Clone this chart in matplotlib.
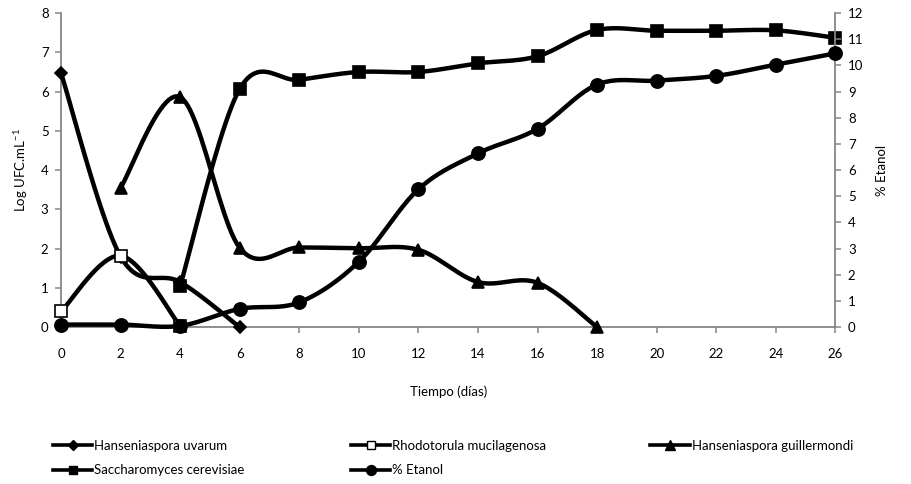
import numpy as np
import matplotlib
matplotlib.use('Agg')
import matplotlib.pyplot as plt
from matplotlib.lines import Line2D

# ── Data ─────────────────────────────────────────────────────────────────────
dias = [0, 2, 4, 6, 8, 10, 12, 14, 16, 18, 20, 22, 24, 26]

uvarum_x = [0, 2, 4, 6]
uvarum_y = [6.47, 1.8, 1.15, 0.0]

rhodo_x = [0, 2, 4]
rhodo_y = [0.4, 1.82, 0.03]

guill_x = [2, 4, 6, 8, 10, 12, 14, 16, 18]
guill_y = [3.55, 5.86, 2.02, 2.03, 2.01, 1.97, 1.15, 1.13, 0.0]

sacch_x = [4, 6, 8, 10, 12, 14, 16, 18, 20, 22, 24, 26]
sacch_y = [1.05, 6.07, 6.3, 6.5, 6.5, 6.72, 6.9, 7.57, 7.55, 7.55, 7.56, 7.37]

etanol_x = dias
etanol_y = [0.1, 0.1, 0.05, 0.7, 0.95, 2.5, 5.27, 6.64, 7.58, 9.27, 9.42, 9.6, 10.03, 10.46]

labels = ['Hanseniaspora uvarum', 'Rhodotorula mucilagenosa',
          'Hanseniaspora guillermondi', 'Saccharomyces cerevisiae', '% Etanol']

plt.rcParams['font.family'] = ['Lato', 'DejaVu Sans']
plt.rcParams['mathtext.default'] = 'regular'
FS = 9.5
plt.rcParams['font.size'] = FS
GREY = '#868686'


def smooth(x, y, n=24):
    """Catmull-Rom curve through the points (like Excel's smoothed line)."""
    p = np.column_stack([x, y]).astype(float)
    if len(p) < 3:
        return p[:, 0], p[:, 1]
    ext = np.vstack([p[0], p, p[-1]])
    t = np.linspace(0, 1, n)[:, None]
    out = []
    for i in range(1, len(ext) - 2):
        p0, p1, p2, p3 = ext[i - 1], ext[i], ext[i + 1], ext[i + 2]
        c1 = p1 + (p2 - p0) / 6
        c2 = p2 - (p3 - p1) / 6
        seg = ((1 - t) ** 3) * p1 + 3 * ((1 - t) ** 2) * t * c1 \
            + 3 * (1 - t) * t ** 2 * c2 + t ** 3 * p2
        out.append(seg if i == 1 else seg[1:])
    out = np.vstack(out)
    return out[:, 0], out[:, 1]


fig = plt.figure(figsize=(9.11, 4.84), dpi=100)
ax = fig.add_axes([0.067, 0.324, 0.850, 0.649])
ax2 = ax.twinx()

LW = 3.2
series = [
    (ax, uvarum_x, uvarum_y, dict(marker='D', ms=6.5, mfc='black')),
    (ax, rhodo_x, rhodo_y, dict(marker='s', ms=8, mfc='white')),
    (ax, guill_x, guill_y, dict(marker='^', ms=9, mfc='black')),
    (ax, sacch_x, sacch_y, dict(marker='s', ms=8.5, mfc='black')),
    (ax2, etanol_x, etanol_y, dict(marker='o', ms=9.5, mfc='black')),
]
for a, xs, ys, mk in series:
    sx, sy = smooth(xs, ys)
    a.plot(sx, sy, color='black', lw=LW, solid_capstyle='round', clip_on=False, zorder=3)
    a.plot(xs, ys, linestyle='none', color='black', mec='black', mew=1.2,
           clip_on=False, zorder=4, **mk)

ax.set_xlim(0, 26)
ax.set_ylim(0, 8)
ax2.set_ylim(0, 12)
ax.set_xticks(dias)
ax.set_yticks(range(0, 9))
ax2.set_yticks(range(0, 13))

for a in (ax, ax2):
    for s in a.spines.values():
        s.set_color(GREY)
        s.set_linewidth(1.3)
    a.spines['top'].set_visible(False)
    a.tick_params(axis='both', direction='out', length=4, width=1.1, color=GREY,
                  labelsize=FS, labelcolor='black', pad=5)
ax.spines['right'].set_visible(False)
ax2.spines['left'].set_visible(False)
ax2.spines['bottom'].set_visible(False)
ax.tick_params(axis='x', pad=11)

ax.set_xlabel('Tiempo (días)', labelpad=18)
ax.set_ylabel('Log UFC.mL$^{-1}$', labelpad=8)
ax2.set_ylabel('% Etanol', rotation=90, labelpad=9)

# ── Legend: three columns placed like the original ──────────────────────────
handles = []
for a, xs, ys, mk in series:
    m = dict(mk)
    m['ms'] = m['ms'] * 0.75
    handles.append(Line2D([], [], color='black', lw=2.6, mec='black', mew=1.0, **m))

columns = [([0, 3], 0.058), ([1, 4], 0.385), ([2], 0.714)]
for idx, x0 in columns:
    fig.legend([handles[i] for i in idx], [labels[i] for i in idx],
               loc='upper left', bbox_to_anchor=(x0, 0.091),
               bbox_transform=fig.transFigure, frameon=False, handlelength=3.0,
               handletextpad=0.15, labelspacing=0.95, borderpad=0,
               borderaxespad=0, fontsize=FS)

fig.savefig('out.png', dpi=100)
